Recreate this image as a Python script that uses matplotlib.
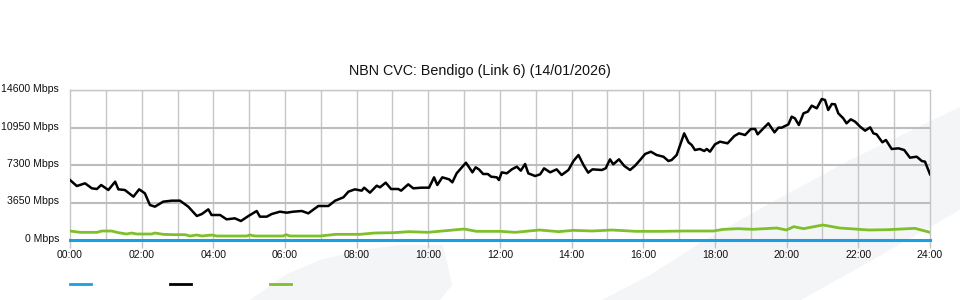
import matplotlib
matplotlib.use("Agg")
import matplotlib.pyplot as plt
import matplotlib.transforms as mtransforms
from matplotlib.patches import Polygon
from matplotlib.lines import Line2D

plt.rcParams['font.family'] = ['Liberation Sans', 'DejaVu Sans']

title = "NBN CVC: Bendigo (Link 6) (14/01/2026)"

# Black series (hours, Mbps)
black_h = [0.00, 0.19, 0.42, 0.61, 0.75, 0.87, 1.07, 1.26, 1.35, 1.53, 1.77, 1.93,
           2.09, 2.23, 2.37, 2.60, 2.84, 3.07, 3.30, 3.54, 3.68, 3.86, 3.95, 4.19,
           4.37, 4.60, 4.77, 4.98, 5.21, 5.30, 5.49, 5.63, 5.86, 6.05, 6.23, 6.47,
           6.65, 6.93, 7.21, 7.40, 7.63, 7.77, 7.95, 8.14, 8.21, 8.37, 8.56, 8.65,
           8.81, 8.96, 9.16, 9.24, 9.44, 9.58, 9.81, 10.02, 10.16, 10.25, 10.39, 10.58,
           10.67, 10.79, 11.05, 11.23, 11.32, 11.41, 11.53, 11.66, 11.75, 11.91, 11.97, 12.05,
           12.19, 12.33, 12.47, 12.58, 12.70, 12.79, 12.98, 13.12, 13.23, 13.40, 13.58, 13.72,
           13.91, 14.05, 14.19, 14.33, 14.46, 14.58, 14.84, 14.95, 15.07, 15.16, 15.32, 15.47,
           15.63, 15.77, 15.91, 16.05, 16.21, 16.37, 16.56, 16.70, 16.79, 16.93, 17.14, 17.26,
           17.35, 17.44, 17.58, 17.70, 17.77, 17.86, 18.00, 18.14, 18.35, 18.54, 18.67, 18.84,
           19.00, 19.12, 19.19, 19.35, 19.49, 19.66, 19.77, 19.86, 20.05, 20.14, 20.23, 20.34,
           20.47, 20.59, 20.70, 20.84, 20.98, 21.07, 21.16, 21.26, 21.35, 21.44, 21.58, 21.67,
           21.79, 21.91, 22.05, 22.19, 22.33, 22.42, 22.51, 22.67, 22.77, 22.93, 23.12, 23.28,
           23.44, 23.63, 23.77, 23.86, 24.00]
black_v = [5840, 5256, 5516, 5030, 4964, 5353, 4867, 5677, 4932, 4867, 4218, 4932,
           4542, 3407, 3245, 3731, 3828, 3828, 3245, 2336, 2530, 2984, 2433, 2433,
           2011, 2109, 1849, 2336, 2822, 2271, 2271, 2530, 2757, 2660, 2757, 2822,
           2595, 3309, 3309, 3828, 4153, 4704, 4932, 4802, 5093, 4607, 5288, 5126,
           5581, 4964, 4964, 4802, 5418, 5030, 5093, 5093, 6100, 5353, 6100, 5905,
           5613, 6489, 7527, 6586, 7073, 6878, 6424, 6424, 6164, 6100, 5840, 6586,
           6489, 6878, 7138, 6748, 7397, 6489, 6229, 6391, 6975, 6586, 6878, 6326,
           6813, 7689, 8273, 7300, 6553, 6878, 6813, 6975, 7851, 7365, 7851, 7203,
           6813, 7235, 7787, 8370, 8596, 8273, 8109, 7689, 7787, 8273, 10381, 9509,
           9247, 8760, 8857, 8662, 8857, 8596, 9312, 9570, 9409, 10122, 10381, 10219,
           10804, 10804, 10284, 10868, 11355, 10479, 10933, 10933, 11258, 12006, 11842, 11193,
           12331, 12493, 13077, 12818, 13724, 13627, 12655, 13238, 13206, 12331, 11842, 11355,
           11745, 11518, 11030, 10641, 10966, 10381, 10284, 9509, 9733, 8857, 8922, 8760,
           8013, 8109, 7689, 7625, 6400]

# Green series (hours, Mbps)
green_h = [0.00, 0.28, 0.75, 0.89, 1.16, 1.35, 1.58, 1.72, 1.86, 2.28, 2.37, 2.60,
           2.88, 3.21, 3.35, 3.54, 3.68, 3.95, 4.09, 4.93, 5.02, 5.16, 5.95, 6.03,
           6.14, 6.98, 7.41, 8.09, 8.50, 9.04, 9.46, 9.99, 10.39, 11.00, 11.34, 12.01,
           12.42, 13.10, 13.64, 14.04, 14.58, 15.12, 15.80, 16.48, 17.15, 17.96, 18.24,
           18.64, 19.05, 19.72, 19.99, 20.20, 20.47, 21.01, 21.48, 22.30, 22.83, 23.58, 24.00]
green_v = [876, 746, 746, 876, 876, 714, 584, 681, 584, 584, 681, 552,
           519, 519, 389, 487, 389, 487, 389, 389, 487, 389, 389, 519,
           389, 389, 552, 552, 681, 714, 811, 746, 876, 1070, 843, 843,
           746, 973, 811, 941, 876, 973, 843, 843, 876, 876, 1038,
           1103, 1038, 1168, 973, 1298, 1103, 1460, 1168, 973, 1006, 1135, 746]

# Blue series (hours, Mbps)
blue_h = [0, 24]
blue_v = [0, 0]

y_ticks = [0, 3650, 7300, 10950, 14600]
y_labels = ["0 Mbps", "3650 Mbps", "7300 Mbps", "10950 Mbps", "14600 Mbps"]
x_ticks = list(range(0, 25, 2))
x_labels = ["%02d:00" % h for h in x_ticks]

W, H = 960, 300
fig = plt.figure(figsize=(W / 100, H / 100), dpi=100)
fig.patch.set_facecolor('white')

def fp(pts):
    return [(x / W, 1 - y / H) for x, y in pts]

wm = '#f4f5f7'
shapeA = [(250, 300), (285, 275), (320, 260), (360, 250), (400, 245), (443, 245),
          (452, 285), (440, 300)]
shapeB = [(602, 300), (650, 275), (700, 243), (767, 205), (850, 160), (960, 107),
          (960, 210), (860, 267), (801, 300)]
for s in (shapeA, shapeB):
    fig.patches.append(Polygon(fp(s), closed=True, transform=fig.transFigure,
                               facecolor=wm, edgecolor='none', zorder=-5))

ax = fig.add_axes([70 / W, 60 / H, 860 / W, 150 / H])
ax.set_zorder(1)
ax.set_facecolor('none')
ax.set_xlim(0, 24)
ax.set_ylim(0, 14600)

# grid
for h in range(1, 24):
    ax.axvline(h, color='#c6c6c6', lw=1.0, zorder=1)
for v in [3650, 7300, 10950]:
    ax.axhline(v, color='#bdbdbd', lw=1.5, zorder=1)
ax.axhline(14600, color='#cccccc', lw=1.0, zorder=1)

for sp in ['left', 'right', 'top', 'bottom']:
    ax.spines[sp].set_color('#c6c6c6')
    ax.spines[sp].set_linewidth(1.0)

ax.plot(green_h, green_v, color='#7fbf2a', lw=2.0, zorder=3, solid_joinstyle='round')
ax.plot(black_h, black_v, color='#000000', lw=1.8, zorder=4, solid_joinstyle='round')
ax.plot(blue_h, blue_v, color='#1a9fe0', lw=2.2, zorder=5, clip_on=False)

fs = 7.6
ax.set_yticks(y_ticks)
ax.set_yticklabels(y_labels)
ax.set_xticks(x_ticks)
ax.set_xticklabels(x_labels)
ax.tick_params(axis='y', length=0, pad=8, labelsize=fs, labelcolor='#111111')
ax.tick_params(axis='x', length=5.5, width=1, color='#c6c6c6', pad=1.5,
               labelsize=fs, labelcolor='#111111')
shift = mtransforms.ScaledTranslation(0, 2 / 100, fig.dpi_scale_trans)
for lbl in ax.get_yticklabels():
    lbl.set_transform(lbl.get_transform() + shift)

fig.text(0.5, 1 - 71 / H, title, fontsize=10.3, color='#111111',
         ha='center', va='center')

handles = [Line2D([], [], color='#1a9fe0', lw=2),
           Line2D([], [], color='#000000', lw=2),
           Line2D([], [], color='#7fbf2a', lw=2)]
em = fs * 100 / 72
fig.legend(handles, ['', '', ''], loc='center left',
           bbox_to_anchor=(70 / W, 1 - 285 / H), ncol=3, frameon=False,
           handlelength=21 / em, handletextpad=0, columnspacing=(100 - 21) / em,
           borderpad=0, borderaxespad=0, fontsize=fs)

fig.savefig('out.png', dpi=100, facecolor='white')
